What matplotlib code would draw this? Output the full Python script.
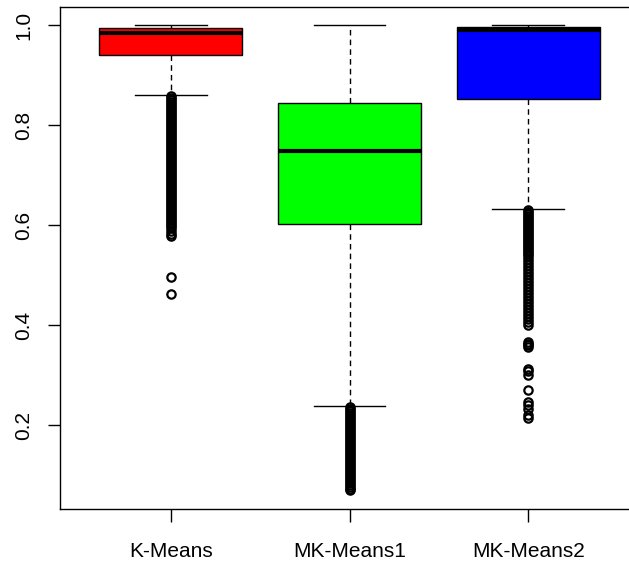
"""
Boxplot comparison of K-Means, MK-Means1 and MK-Means2 scores (R base-graphics look)
"""

import matplotlib
matplotlib.use("Agg")
import matplotlib.pyplot as plt

plt.rcParams['font.family'] = ['Liberation Sans', 'DejaVu Sans']

# ---- data ----
labels = ['K-Means', 'MK-Means1', 'MK-Means2']
colors = ['#ff0000', '#00ff00', '#0000ff']

q1 = [0.941, 0.602, 0.853]
medians = [0.985, 0.749, 0.990]
q3 = [0.995, 0.844, 0.997]
whisk_lo = [0.861, 0.238, 0.633]
whisk_hi = [1.000, 1.000, 1.000]

kmeans_out = [
    0.858, 0.854, 0.850, 0.846, 0.842, 0.838, 0.834, 0.830, 0.826, 0.822,
    0.818, 0.814, 0.810, 0.806, 0.802, 0.798, 0.794, 0.790, 0.786, 0.782,
    0.778, 0.774, 0.770, 0.766, 0.762, 0.758, 0.754, 0.750, 0.746, 0.742,
    0.738, 0.734, 0.730, 0.726, 0.722, 0.718, 0.714, 0.710, 0.706, 0.702,
    0.698, 0.694, 0.690, 0.686, 0.682, 0.678, 0.674, 0.670, 0.666, 0.662,
    0.658, 0.654, 0.650, 0.646, 0.642, 0.638, 0.634, 0.630, 0.626, 0.622,
    0.618, 0.614, 0.610, 0.606, 0.602, 0.598, 0.594, 0.589, 0.583, 0.578,
    0.497, 0.463,
]
mk1_out = [
    0.236, 0.232, 0.228, 0.224, 0.220, 0.216, 0.212, 0.208, 0.204, 0.200,
    0.196, 0.192, 0.188, 0.184, 0.180, 0.176, 0.172, 0.168, 0.164, 0.160,
    0.156, 0.152, 0.148, 0.144, 0.140, 0.136, 0.132, 0.128, 0.124, 0.120,
    0.116, 0.112, 0.108, 0.104, 0.100, 0.096, 0.092, 0.088, 0.084, 0.080,
    0.076, 0.073, 0.070,
]
mk2_out = [
    0.631, 0.627, 0.623, 0.619, 0.615, 0.611, 0.607, 0.603, 0.599, 0.595,
    0.591, 0.587, 0.583, 0.579, 0.575, 0.571, 0.567, 0.563, 0.559, 0.555,
    0.551, 0.547, 0.543, 0.538, 0.532, 0.526, 0.520, 0.514, 0.508, 0.502,
    0.496, 0.490, 0.484, 0.478, 0.472, 0.466, 0.460, 0.454, 0.448, 0.442,
    0.436, 0.430, 0.424, 0.418, 0.412, 0.406, 0.401,
    0.366, 0.363, 0.360, 0.357, 0.312, 0.309, 0.300, 0.271,
    0.247, 0.240, 0.233, 0.220, 0.214,
]
outliers = [kmeans_out, mk1_out, mk2_out]

stats = []
for i, name in enumerate(labels):
    stats.append({
        'label': name,
        'med': medians[i],
        'q1': q1[i],
        'q3': q3[i],
        'whislo': whisk_lo[i],
        'whishi': whisk_hi[i],
        'fliers': outliers[i],
    })

# ---- figure ----
fig = plt.figure(figsize=(6.29, 5.67), dpi=100)
W, H = 629, 567
ax = fig.add_axes([60 / W, 1 - 508.7 / H, 579 / W, 502 / H])

bp = ax.bxp(
    stats,
    positions=[1, 2, 3],
    widths=0.8,
    capwidths=0.4,
    patch_artist=True,
    boxprops=dict(edgecolor='black', linewidth=1.0),
    medianprops=dict(color='black', linewidth=3.0, solid_capstyle='butt'),
    whiskerprops=dict(color='black', linewidth=1.0, linestyle=(0, (4, 3))),
    capprops=dict(color='black', linewidth=1.0),
    flierprops=dict(marker='o', markerfacecolor='none', markeredgecolor='black',
                    markersize=6, markeredgewidth=1.6),
)
for patch, c in zip(bp['boxes'], colors):
    patch.set_facecolor(c)

# R style axis extension (4%)
all_vals = [v for lst in outliers for v in lst] + whisk_hi
lo, hi = min(all_vals), max(all_vals)
pad = 0.04 * (hi - lo)
ax.set_ylim(lo - pad, hi + pad)
ax.set_xlim(0.38, 3.62)

ax.set_yticks([0.2, 0.4, 0.6, 0.8, 1.0])
ax.set_yticklabels(['0.2', '0.4', '0.6', '0.8', '1.0'], rotation=90, va='center')
ax.set_xticks([1, 2, 3])
ax.set_xticklabels(labels)

ax.tick_params(axis='both', labelsize=15, length=9, width=1.0, color='black')
ax.tick_params(axis='y', pad=10)
ax.tick_params(axis='x', pad=15)
for sp in ax.spines.values():
    sp.set_linewidth(1.0)
    sp.set_color('black')

fig.savefig('out.png', dpi=100)
